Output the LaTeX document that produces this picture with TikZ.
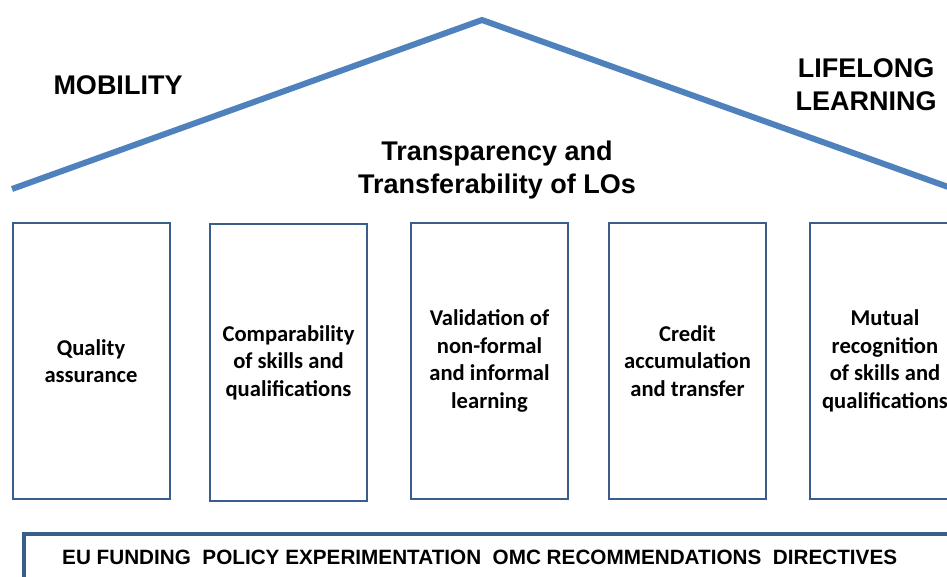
\documentclass[tikz,border=0pt]{standalone}
\usepackage{fontspec}
\setmainfont{Liberation Sans}
\newfontfamily\boxfont{Carlito}
\begin{document}
\begin{tikzpicture}[x=1pt,y=-1pt,
  roof/.style={draw=roofblue,line width=6pt,line join=miter,line cap=butt},
  pillar/.style={draw=pillarblue,line width=2pt,minimum width=157pt,minimum height=276pt,
    inner sep=0pt,align=center,font=\boxfont\bfseries\fontsize{22.6}{27.5}\selectfont},
  heading/.style={align=center,font=\bfseries\fontsize{27}{33}\selectfont,inner sep=0pt},
  base/.style={draw=pillarblue,line width=4pt,inner sep=0pt}]
\definecolor{roofblue}{RGB}{79,129,189}
\definecolor{pillarblue}{RGB}{58,94,140}
\useasboundingbox (0,0) rectangle (947,577);
\clip (0,0) rectangle (947,577);
\fill[white] (0,0) rectangle (947,577);

% roof
\coordinate (roofL) at (12,189);
\coordinate (apex) at (482,20);
\coordinate (roofR) at (965,193);
\draw[roof] (roofL) -- (apex) -- (roofR);

% headings
\node[heading] (mob) at (118,85) {MOBILITY};
\node[heading] (lll) at (866,85) {LIFELONG\\LEARNING};
\node[heading] (trans) at (497,170) {Transparency and\\Transferability of LOs};

% pillars
\node[pillar] (p1) at (91,361) {Quality\\assurance};
\node[pillar,minimum height=277pt] (p2) at (288.5,362.5) {Comparability\\of skills and\\qualifications};
\node[pillar] (p3) at (489.5,361) {Validation of\\non-formal\\and informal\\learning};
\node[pillar] (p4) at (687.5,361) {Credit\\accumulation\\and transfer};
\node[pillar,minimum width=150pt] (p5) at (885,361) {Mutual\\recognition\\of skills and\\qualifications};

% base
\draw[base] (24,600) -- (24,534) -- (970,534);
\node[anchor=west,font=\bfseries\fontsize{20.7}{24}\selectfont,inner sep=0pt] (basetext) at (62,557)
  {EU FUNDING\ \ POLICY EXPERIMENTATION\ \ OMC RECOMMENDATIONS\ \ DIRECTIVES};
\end{tikzpicture}
\end{document}
